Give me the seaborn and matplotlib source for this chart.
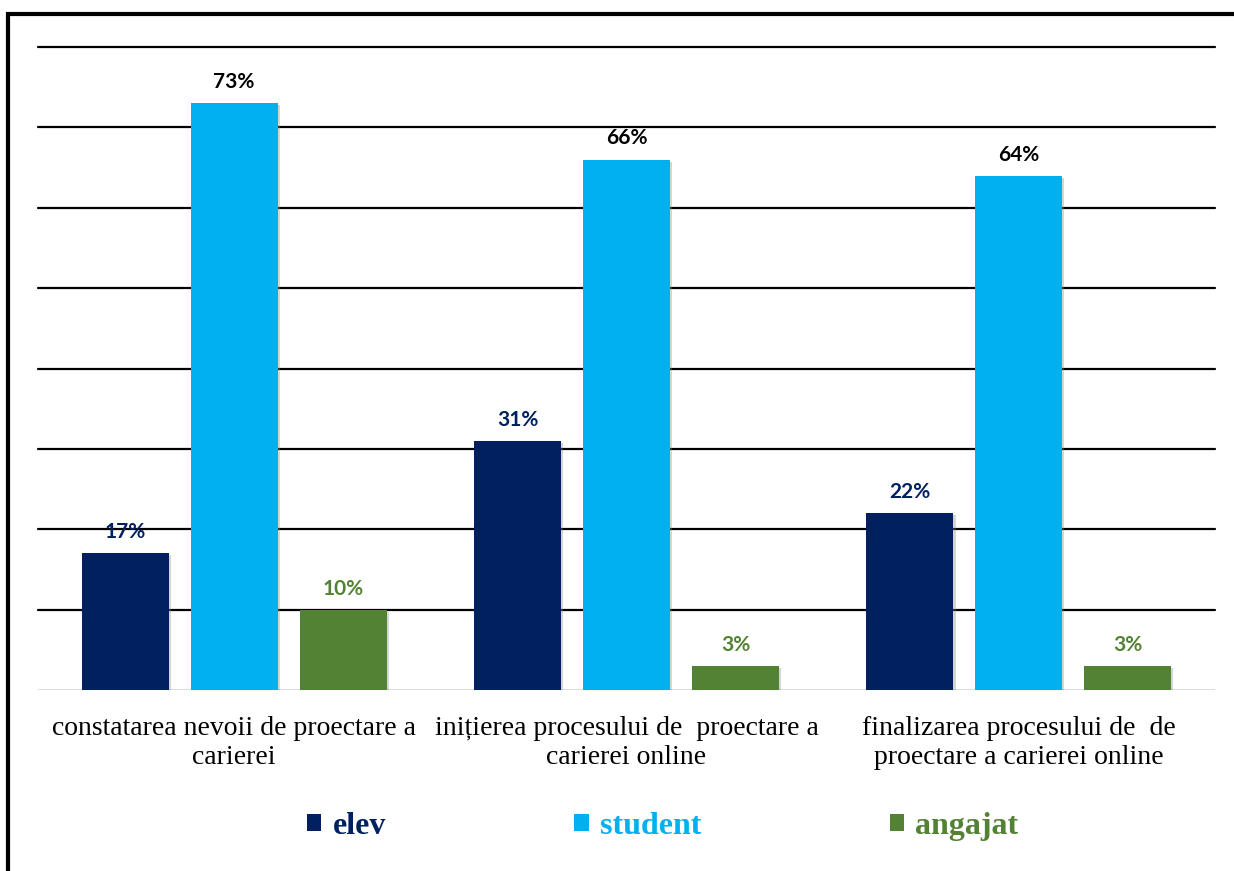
import matplotlib
matplotlib.use("Agg")
import matplotlib.pyplot as plt
import matplotlib.patches as mpatches
import matplotlib.patheffects as pe
import seaborn as sns
import pandas as pd

# values
categories = [
    "constatarea nevoii de proectare a\ncarierei",
    "inițierea procesului de  proectare a\ncarierei online",
    "finalizarea procesului de  de\nproectare a carierei online",
]
groups = ["elev", "student", "angajat"]
elev = [17, 31, 22]
student = [73, 66, 64]
angajat = [10, 3, 3]

colors = ["#002060", "#00B0F0", "#548235"]
label_colors = ["#002060", "#000000", "#548235"]

df = pd.DataFrame({
    "categorie": categories * 3,
    "grup": [g for g in groups for _ in categories],
    "valoare": elev + student + angajat,
})

sns.set_theme(style="white")
fig = plt.figure(figsize=(12.34, 8.71), dpi=100)
ax = fig.add_axes([0.0308, 0.2078, 0.9538, 0.7382])

sns.barplot(
    data=df, x="categorie", y="valoare", hue="grup",
    order=categories, hue_order=groups, palette=colors,
    width=0.833, gap=0.2, saturation=1, linewidth=0, ax=ax, legend=True,
)

ax.set_ylim(0, 80)
ax.set_xlim(-0.5, 2.5)
ax.set_yticks(range(10, 90, 10))
ax.yaxis.grid(True, color="black", linewidth=1.6)
for gl in ax.get_ygridlines():
    gl.set_clip_on(False)
ax.set_axisbelow(True)
ax.axhline(0, color="#d9d9d9", linewidth=2, zorder=0.5)
for s in ax.spines.values():
    s.set_visible(False)
ax.set_yticklabels([])
ax.tick_params(axis="y", length=0)
ax.tick_params(axis="x", length=0, pad=19)
ax.set_xlabel("")
ax.set_ylabel("")
for t in ax.get_xticklabels():
    t.set_fontfamily("Liberation Serif")
    t.set_fontsize(20)
    t.set_color("black")
    t.set_linespacing(1.2)

for cont, col in zip(ax.containers, label_colors):
    ax.bar_label(cont, labels=[f"{v:.0f}%" for v in cont.datavalues],
                 padding=8, color=col, fontsize=15, fontweight="bold",
                 fontfamily="Lato")

handles, labels = ax.get_legend_handles_labels()
ax.get_legend().remove()
fig.legend(handles, labels, loc="center", bbox_to_anchor=(0.537, 0.051),
           ncol=3, frameon=False, handlelength=0.45, handleheight=0.45,
           handletextpad=0.35, columnspacing=5.9, labelcolor=colors,
           prop={"family": "Liberation Serif", "weight": "bold", "size": 23})

# light drop shadow on the bars (after the legend so its squares stay flat)
shadow = [pe.SimplePatchShadow(offset=(1.5, -1.5), shadow_rgbFace="#888888", alpha=0.35),
          pe.Normal()]
for cont in ax.containers:
    for p in cont:
        p.set_path_effects(shadow)

# outer frame (only top and left edges visible in the original)
frame = mpatches.Rectangle((8 / 1234, -0.2), 1.5, 1.2 - 14 / 871,
                           transform=fig.transFigure, fill=False,
                           edgecolor="black", linewidth=3)
fig.add_artist(frame)

fig.savefig("out.png", dpi=100)
